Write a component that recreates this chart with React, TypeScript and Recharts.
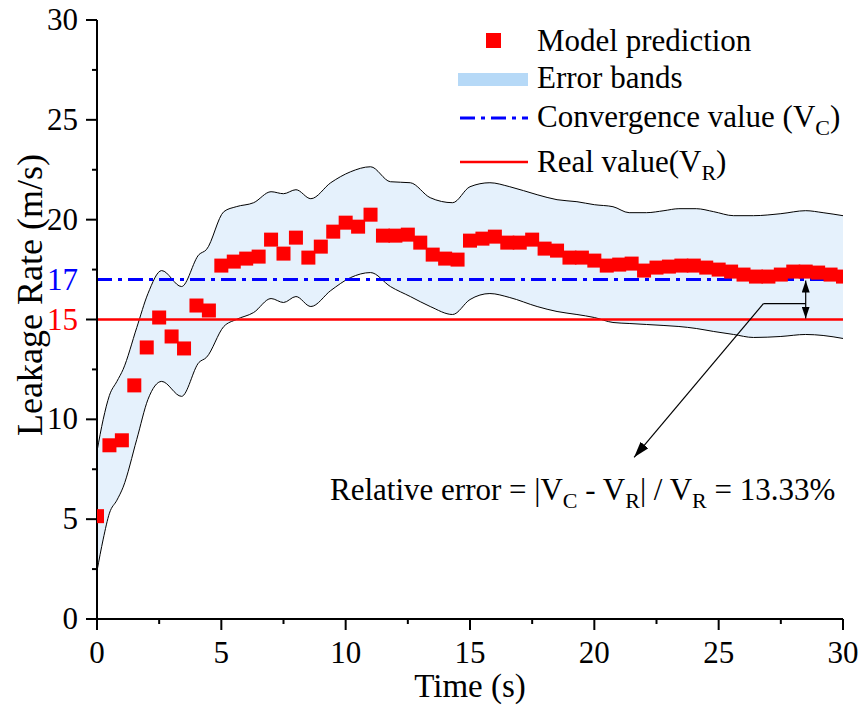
import React from 'react';
import {
  ComposedChart,
  Area,
  Scatter,
  XAxis,
  YAxis,
  ReferenceLine,
  Label,
} from 'recharts';

const FONT = '"Liberation Serif", "Times New Roman", serif';

// model prediction, sampled every 0.5 s
const predTime = [
  0, 0.5, 1, 1.5, 2, 2.5, 3, 3.5, 4, 4.5, 5, 5.5, 6, 6.5, 7, 7.5, 8, 8.5, 9, 9.5,
  10, 10.5, 11, 11.5, 12, 12.5, 13, 13.5, 14, 14.5, 15, 15.5, 16, 16.5, 17, 17.5,
  18, 18.5, 19, 19.5, 20, 20.5, 21, 21.5, 22, 22.5, 23, 23.5, 24, 24.5, 25, 25.5,
  26, 26.5, 27, 27.5, 28, 28.5, 29, 29.5, 30,
];
const predValue = [
  5.15, 8.7, 8.95, 11.7, 13.6, 15.1, 14.15, 13.55, 15.7, 15.45, 17.7, 17.9, 18.05,
  18.15, 19.0, 18.3, 19.1, 18.1, 18.65, 19.4, 19.85, 19.65, 20.25, 19.2, 19.2,
  19.25, 18.85, 18.25, 18.05, 18.0, 18.95, 19.05, 19.15, 18.85, 18.85, 19.0,
  18.55, 18.45, 18.1, 18.1, 17.95, 17.7, 17.75, 17.8, 17.45, 17.6, 17.65, 17.7,
  17.7, 17.6, 17.5, 17.4, 17.25, 17.15, 17.15, 17.25, 17.4, 17.4, 17.35, 17.25,
  17.15,
];

// error band outline
const bandTime = [
  0, 0.25, 0.5, 0.8, 1.05, 1.6, 2.05, 2.6, 3.4, 4.1, 4.4, 5.1, 5.6, 6.3, 7.0, 7.5,
  8.0, 8.6, 9.4, 10.2, 11.0, 11.8, 12.6, 13.4, 14.3, 15.0, 15.8, 16.6, 17.7, 18.5,
  19.3, 20.0, 20.75, 21.4, 22.1, 22.8, 23.4, 24.1, 24.8, 25.6, 26.4, 27.5, 28.5,
  29.2, 30,
];
const bandUpper = [
  8.4, 10.0, 11.2, 11.9, 12.5, 14.6, 16.3, 17.45, 16.65, 18.25, 18.5, 20.4, 20.65,
  20.85, 21.4, 21.3, 21.5, 21.05, 21.85, 22.4, 22.65, 21.9, 21.85, 21.1, 20.85,
  21.65, 21.85, 21.65, 21.25, 21.0, 20.9, 20.75, 20.65, 20.35, 20.35, 20.45,
  20.55, 20.55, 20.4, 20.2, 20.2, 20.3, 20.45, 20.35, 20.2,
];
const bandLower = [
  2.4, 4.0, 5.3, 5.95, 6.6, 9.0, 11.0, 11.9, 11.15, 12.85, 13.1, 14.65, 15.0,
  15.35, 16.05, 15.85, 16.15, 15.65, 16.45, 17.1, 17.35, 16.65, 16.15, 15.65,
  15.25, 16.0, 16.3, 16.1, 15.65, 15.4, 15.25, 15.1, 14.85, 14.8, 14.75, 14.7,
  14.65, 14.55, 14.4, 14.25, 14.1, 14.15, 14.25, 14.2, 14.05,
];

const convergenceValue = 17;
const realValue = 15;

const xTicks = [0, 2.5, 5, 7.5, 10, 12.5, 15, 17.5, 20, 22.5, 25, 27.5, 30];
const yTicks = [0, 2.5, 5, 7.5, 10, 12.5, 15, 17, 17.5, 20, 22.5, 25, 27.5, 30];

const predData = predTime.map((t, i) => ({ t, v: predValue[i] }));
const bandData = bandTime.map((t, i) => ({ t, band: [bandLower[i], bandUpper[i]] }));

const isMajor = (v: number) => v % 5 === 0;

function YTick(props: any) {
  const { x, y, payload } = props;
  const v = payload.value;
  if (v === 17) {
    return (
      <text x={x - 19} y={y} dy={10} textAnchor="end" fill="#0000ff" fontSize={31} fontFamily={FONT}>
        17
      </text>
    );
  }
  const len = isMajor(v) ? 11 : 5;
  return (
    <g>
      <line x1={x - len} x2={x} y1={y} y2={y} stroke="#000" strokeWidth={2} />
      {isMajor(v) && (
        <text
          x={x - 19}
          y={y}
          dy={10}
          textAnchor="end"
          fill={v === 15 ? '#ff0000' : '#000'}
          fontSize={31}
          fontFamily={FONT}
        >
          {v}
        </text>
      )}
    </g>
  );
}

function XTick(props: any) {
  const { x, y, payload } = props;
  const v = payload.value;
  const len = isMajor(v) ? 11 : 5;
  return (
    <g>
      <line x1={x} x2={x} y1={y} y2={y + len} stroke="#000" strokeWidth={2} />
      {isMajor(v) && (
        <text x={x} y={y + 44} textAnchor="middle" fill="#000" fontSize={31} fontFamily={FONT}>
          {v}
        </text>
      )}
    </g>
  );
}

function Square(props: any) {
  const { cx, cy } = props;
  return <rect x={cx - 7} y={cy - 7} width={14} height={14} fill="#ff0000" />;
}

function Arrow(props: any) {
  const { x1, y1, x2, y2, both, id, len = 14, wid = 9 } = props;
  return (
    <g>
      <defs>
        <marker
          id={id}
          viewBox={`0 0 ${len} ${wid}`}
          refX={len}
          refY={wid / 2}
          markerWidth={len}
          markerHeight={wid}
          orient="auto-start-reverse"
          markerUnits="userSpaceOnUse"
        >
          <path d={`M0,0 L${len},${wid / 2} L0,${wid} z`} fill="#000" />
        </marker>
      </defs>
      <line
        x1={x1}
        y1={y1}
        x2={x2}
        y2={y2}
        stroke="#000"
        strokeWidth={1.2}
        markerEnd={`url(#${id})`}
        markerStart={both ? `url(#${id})` : undefined}
      />
    </g>
  );
}

function ChartLegend() {
  const text = { fontSize: 31, fontFamily: FONT, fill: '#000' };
  const sub = { fontSize: 22 };
  return (
    <g>
      <rect x={486} y={33} width={15} height={15} fill="#ff0000" />
      <text x={537} y={51} {...text}>Model prediction</text>
      <rect x={458} y={73} width={70} height={13} fill="#b6d9f7" />
      <text x={537} y={88} {...text}>Error bands</text>
      <line x1={460} x2={528} y1={118} y2={118} stroke="#0000ff" strokeWidth={3} strokeDasharray="15 6 4 6" />
      <text x={537} y={127} {...text}>
        Convergence value (V<tspan dy={8} {...sub}>C</tspan>
        <tspan dy={-8}>)</tspan>
      </text>
      <line x1={460} x2={528} y1={162} y2={162} stroke="#ff0000" strokeWidth={2.5} />
      <text x={537} y={172} {...text}>
        Real value(V<tspan dy={8} {...sub}>R</tspan>
        <tspan dy={-8}>)</tspan>
      </text>
      <text x={330} y={500} {...text}>
        Relative error = |V<tspan dy={8} {...sub}>C</tspan>
        <tspan dy={-8}> - V</tspan>
        <tspan dy={8} {...sub}>R</tspan>
        <tspan dy={-8}>| / V</tspan>
        <tspan dy={8} {...sub}>R</tspan>
        <tspan dy={-8}> = 13.33%</tspan>
      </text>
    </g>
  );
}

export default function App() {
  return (
    <div style={{ position: 'absolute', left: 0, top: 0, background: '#fff' }}>
      <ComposedChart width={858} height={706} margin={{ top: 20, right: 15, left: 17, bottom: 7 }}>
        <XAxis
          type="number"
          dataKey="t"
          domain={[0, 30]}
          ticks={xTicks}
          interval={0}
          tickSize={0}
          tickMargin={0}
          tick={<XTick />}
          height={80}
          axisLine={{ stroke: '#000', strokeWidth: 2 }}
          allowDataOverflow
        >
          <Label
            content={() => (
              <text x={470} y={697} textAnchor="middle" fontSize={33} fontFamily={FONT} fill="#000">
                Time (s)
              </text>
            )}
          />
        </XAxis>
        <YAxis
          type="number"
          domain={[0, 30]}
          ticks={yTicks}
          interval={0}
          tickSize={0}
          tickMargin={0}
          tick={<YTick />}
          width={80}
          axisLine={{ stroke: '#000', strokeWidth: 2 }}
          allowDataOverflow
        >
          <Label
            content={() => (
              <text
                x={42}
                y={295}
                transform="rotate(-90 42 295)"
                textAnchor="middle"
                fontSize={36}
                fontFamily={FONT}
                fill="#000"
              >
                Leakage Rate (m/s)
              </text>
            )}
          />
        </YAxis>
        <Area
          data={bandData}
          dataKey="band"
          type="monotone"
          fill="#e5f1fc"
          fillOpacity={1}
          stroke="#000"
          strokeWidth={1}
          isAnimationActive={false}
        />
        <ReferenceLine
          y={convergenceValue}
          stroke="#0000ff"
          strokeWidth={3}
          strokeDasharray="15 6 4 6"
        />
        <ReferenceLine y={realValue} stroke="#ff0000" strokeWidth={2.5} />
        <Scatter data={predData} dataKey="v" shape={<Square />} isAnimationActive={false} />
        <ReferenceLine
          segment={[
            { x: 28.5, y: 16.95 },
            { x: 28.5, y: 15.05 },
          ]}
          shape={(p: any) => <Arrow {...p} both id="arrowBoth" len={12} wid={8} />}
        />
        <ReferenceLine
          segment={[
            { x: 26.8, y: 15.8 },
            { x: 28.5, y: 15.8 },
          ]}
          stroke="#000"
          strokeWidth={1.2}
        />
        <ReferenceLine
          segment={[
            { x: 26.8, y: 15.8 },
            { x: 21.6, y: 8.1 },
          ]}
          shape={(p: any) => <Arrow {...p} id="arrowOne" len={16} wid={10} />}
        />
        <ChartLegend />
      </ComposedChart>
    </div>
  );
}
